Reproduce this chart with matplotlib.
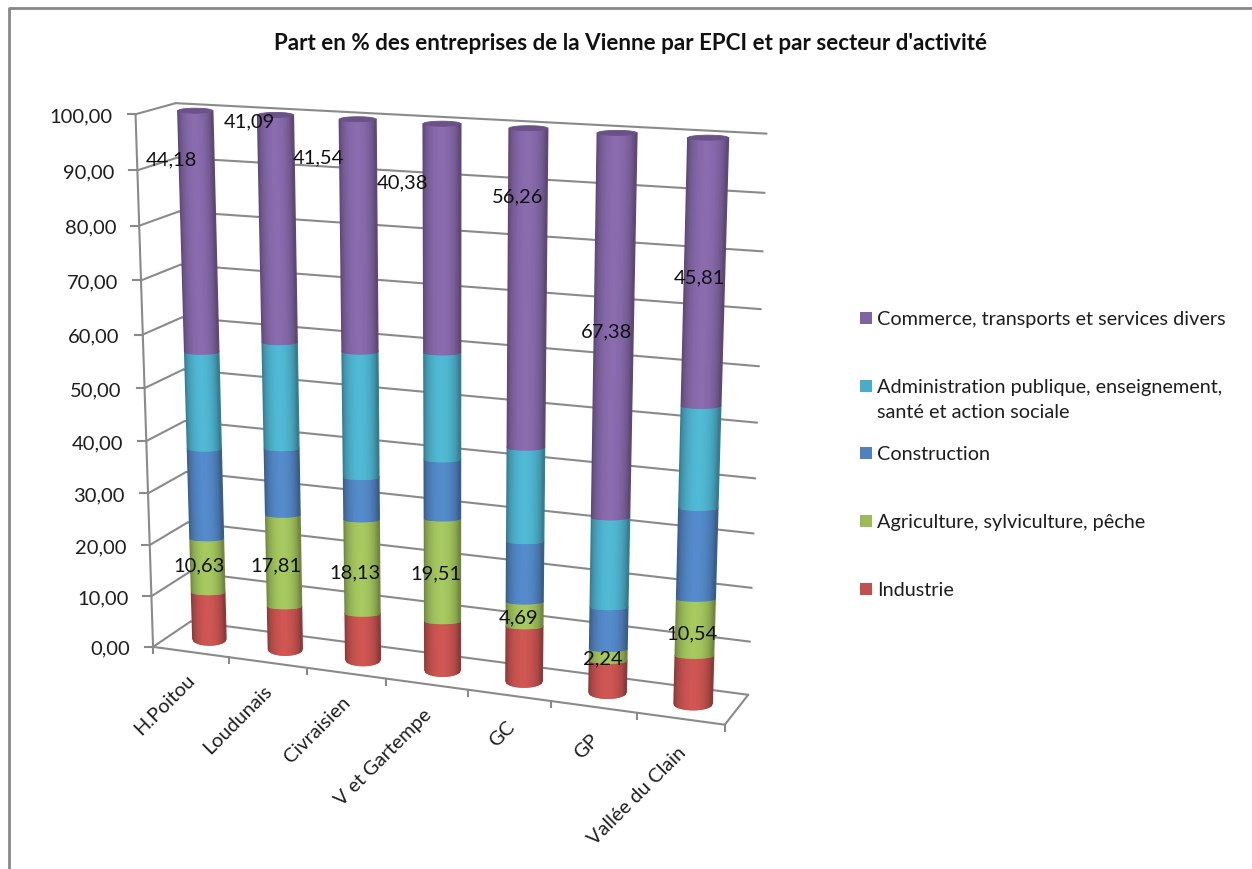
import numpy as np
import matplotlib
matplotlib.use("Agg")
import matplotlib.pyplot as plt
from matplotlib.collections import PolyCollection
from matplotlib.patches import Rectangle, Polygon

plt.rcParams['font.family'] = ['Lato', 'DejaVu Sans']

# ---------- data ----------
title = "Part en % des entreprises de la Vienne par EPCI et par secteur d'activité"
categories = ["H.Poitou", "Loudunais", "Civraisien", "V et Gartempe", "GC", "GP", "Vallée du Clain"]
industrie = [9.37, 8.5, 9.0, 9.5, 10.5, 6.0, 9.0]
agriculture = [10.63, 17.81, 18.13, 19.51, 4.69, 2.24, 10.54]
construction = [17.4, 12.7, 8.0, 11.0, 11.3, 7.8, 16.5]
administration = [18.42, 19.9, 23.33, 19.61, 17.25, 16.58, 18.15]
commerce = [44.18, 41.09, 41.54, 40.38, 56.26, 67.38, 45.81]
y_ticks = [0, 10, 20, 30, 40, 50, 60, 70, 80, 90, 100]
series_names = ["Industrie", "Agriculture, sylviculture, pêche", "Construction",
                "Administration publique, enseignement,\nsanté et action sociale",
                "Commerce, transports et services divers"]
series_colors = ["#C0504D", "#9BBB59", "#4F81BD", "#4BACC6", "#8064A2"]

agri_labels = ["10,63", "17,81", "18,13", "19,51", "4,69", "2,24", "10,54"]
comm_labels = ["44,18", "41,09", "41,54", "40,38", "56,26", "67,38", "45,81"]

# ---------- layout: label anchors (pixels) ----------
agri_label_pos = [(199, 566), (276, 566), (355, 573), (436, 574), (519, 618), (603, 659), (692, 634)]
comm_label_pos = [(171, 160), (249, 122), (318, 158), (403, 183), (518, 197), (607, 332), (699, 278)]
legend_y = [591, 523, 455, 388, 320]

W, H = 1252, 870
fig = plt.figure(figsize=(W / 100, H / 100), dpi=100, facecolor="white")
ax = fig.add_axes([0, 0, 1, 1])
ax.set_xlim(0, W)
ax.set_ylim(H, 0)
ax.axis("off")

# ---------- perspective projection fitted on the box of the 3D chart ----------
n = len(categories)
calib = [((0, 0, 0), (153, 648)), ((0, 0, 100), (136, 115)), ((0, 0, 50), (145, 388)),
         ((0, 1, 0), (192, 623)), ((0, 1, 100), (175, 104)),
         ((n, 0, 0), (725, 726)), ((n, 1, 0), (748, 695)), ((n, 1, 100), (767, 134)),
         ((0.5, 0.5, 0), (208, 640)), ((0.5, 0.5, 100), (195, 112.5)),
         ((n - 0.5, 0.5, 0), (693, 705)), ((n - 0.5, 0.5, 100), (708, 139.5))]
A, b = [], []
for (c, d, v), (px, py) in calib:
    v = v / 100
    A.append([c, d, v, 1, 0, 0, 0, 0, -px * c, -px * d, -px * v])
    b.append(px)
    A.append([0, 0, 0, 0, c, d, v, 1, -py * c, -py * d, -py * v])
    b.append(py)
sol = np.linalg.lstsq(np.array(A, float), np.array(b, float), rcond=None)[0]
P = np.append(sol, 1.0).reshape(3, 4)


def proj(c, d, v):
    h = P @ np.array([c, d, v / 100, 1.0])
    return h[0] / h[2], h[1] / h[2]


GRID = "#8A8A8A"
LW = 1.5
TXT = "#1E1E1E"


def seg(p, q, **kw):
    ax.plot([p[0], q[0]], [p[1], q[1]], color=GRID, lw=LW, solid_capstyle="round", **kw)


# walls and floor
for v in y_ticks:
    seg(proj(0, 0, v), proj(0, 1, v))
    seg(proj(0, 1, v), proj(n, 1, v))
seg(proj(0, 0, 0), proj(0, 0, 100))
seg(proj(0, 0, 0), proj(n, 0, 0))
seg(proj(n, 0, 0), proj(n, 1, 0))

# ticks and tick labels
for v in y_ticks:
    x0, y0 = proj(0, 0, v)
    ax.plot([x0 - 8, x0], [y0, y0], color=GRID, lw=LW)
    ax.text(x0 - 23, y0 + 1.5, f"{v:.2f}".replace(".", ","), ha="right", va="center",
            fontsize=14.5, color=TXT)
for i in range(n + 1):
    x0, y0 = proj(i, 0, 0)
    ax.plot([x0, x0], [y0, y0 + 6], color=GRID, lw=LW)
for i, name in enumerate(categories):
    x0, y0 = proj(i + 0.5, 0, 0)
    ax.text(x0 - 5 + 0.3 * i, y0 + 18 + i, name, rotation=45, rotation_mode="anchor",
            ha="right", va="top", fontsize=14.3, color=TXT)


# ---------- cylinders ----------
def shade(color, t):
    rgb = np.array(matplotlib.colors.to_rgb(color))
    f = 0.62 + 0.46 * np.sin(np.pi * t) ** 0.5
    return tuple(np.clip(rgb * f, 0, 1))


def sag(v):
    if v <= 0.01:
        return 6.0
    return 2.5


def arc(ci, v, ts):
    cx, cy = proj(ci + 0.5, 0.5, v)
    xl, _ = proj(ci + 0.5 - 0.22, 0.5, v)
    xr, _ = proj(ci + 0.5 + 0.22, 0.5, v)
    hw = (xr - xl) / 2
    u = 2 * ts - 1
    return cx + hw * u, cy + sag(v) * np.sqrt(np.clip(1 - u * u, 0, 1))


stack = [industrie, agriculture, construction, administration, commerce]
NS = 30
ts = np.linspace(0, 1, NS + 1)
mid = (ts[:-1] + ts[1:]) / 2
for i in range(n):
    base = 0.0
    for values, col in zip(stack, series_colors):
        top = base + values[i]
        xb, yb = arc(i, base, ts)
        xt, yt = arc(i, top, ts)
        verts = [[(xb[k], yb[k]), (xb[k + 1], yb[k + 1]), (xt[k + 1], yt[k + 1]), (xt[k], yt[k])]
                 for k in range(NS)]
        cols = [shade(col, t) for t in mid]
        ax.add_collection(PolyCollection(verts, facecolors=cols, edgecolors=cols,
                                         linewidths=1.1, zorder=3))
        base = top
    # top cap of the cylinder
    xt, yt = arc(i, base, ts)
    cy = proj(i + 0.5, 0.5, base)[1]
    cap = list(zip(xt, yt)) + list(zip(xt[::-1], 2 * cy - yt[::-1]))
    ax.add_patch(Polygon(cap, closed=True, facecolor="#6A5289", edgecolor="#6A5289",
                         lw=0.6, zorder=4))

# ---------- data labels ----------
for txts, pos in ((agri_labels, agri_label_pos), (comm_labels, comm_label_pos)):
    for s, (x, y) in zip(txts, pos):
        ax.text(x, y, s, ha="center", va="center", fontsize=14.5, color="#111111", zorder=6)

# ---------- legend ----------
for name, col, y in zip(series_names, series_colors, legend_y):
    ax.add_patch(Rectangle((860, y - 7), 12, 12, facecolor=col, edgecolor="none"))
    if "\n" in name:
        l1, l2 = name.split("\n")
        ax.text(877, y, l1, ha="left", va="center", fontsize=14.3, color=TXT)
        ax.text(877, y + 25, l2, ha="left", va="center", fontsize=14.3, color=TXT)
    else:
        ax.text(877, y, name, ha="left", va="center", fontsize=14.3, color=TXT)

# ---------- title and chart frame ----------
ax.text(631, 43, title, ha="center", va="center", fontsize=16.1, fontweight="bold", color="#111111")
ax.plot([8.5, 8.5, W], [H, 8.5, 8.5], color="#888888", lw=2)

fig.savefig("out.png", dpi=100, facecolor="white")
